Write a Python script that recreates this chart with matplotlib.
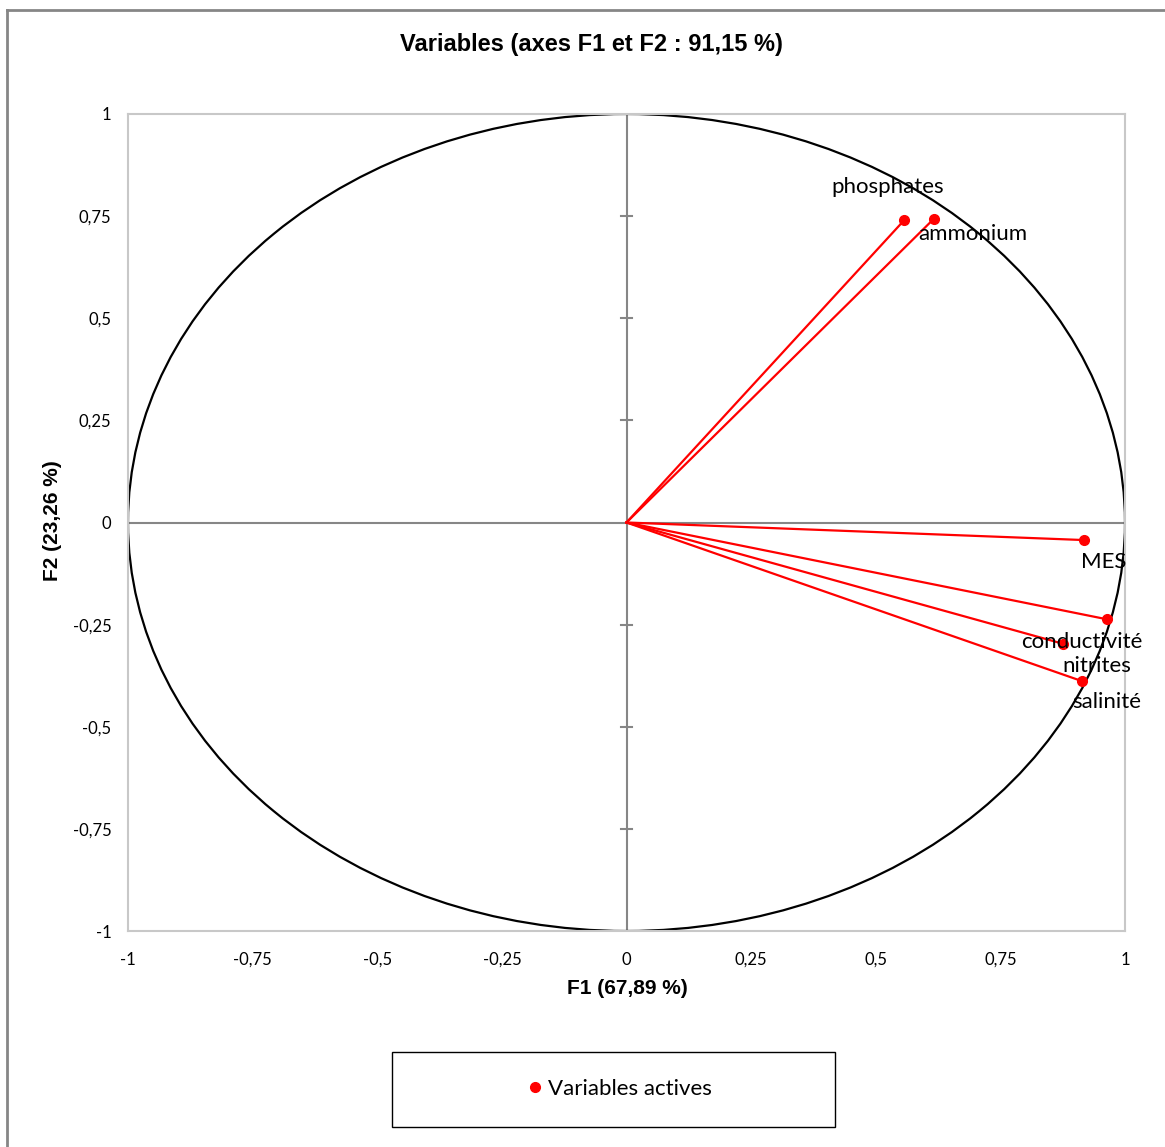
import numpy as np
import matplotlib
matplotlib.use("Agg")
import matplotlib.pyplot as plt
from matplotlib.lines import Line2D
from matplotlib.patches import Rectangle, Ellipse

# ---- data ----
variables = ["phosphates", "ammonium", "MES", "conductivité", "nitrites", "salinité"]
f1 = [0.557, 0.617, 0.918, 0.964, 0.876, 0.913]
f2 = [0.740, 0.744, -0.043, -0.237, -0.297, -0.388]
ticks = [-1, -0.75, -0.5, -0.25, 0, 0.25, 0.5, 0.75, 1]
tick_labels = ["-1", "-0,75", "-0,5", "-0,25", "0", "0,25", "0,5", "0,75", "1"]
title = "Variables (axes F1 et F2 : 91,15 %)"
xlabel = "F1 (67,89 %)"
ylabel = "F2 (23,26 %)"
legend_label = "Variables actives"

# label offsets in points (style)
offsets = [(-12, 24), (28, -11), (14, -16), (-18, -16), (24, -16), (18, -15)]

W, H = 1165, 1147
fig = plt.figure(figsize=(W / 100, H / 100), dpi=100)
body = "Lato"
head = "Liberation Sans"

ax = fig.add_axes([128 / W, 1 - 931 / H, (1125 - 128) / W, (931 - 114) / H])
ax.set_xlim(-1, 1)
ax.set_ylim(-1, 1)
for s in ax.spines.values():
    s.set_color("#c8c8c8")
    s.set_linewidth(1.5)
ax.set_xticks(ticks)
ax.set_yticks(ticks)
ax.set_xticklabels(tick_labels, family=body, fontsize=12)
ax.set_yticklabels(tick_labels, family=body, fontsize=12)
ax.tick_params(length=0)
ax.tick_params(axis="x", pad=15)
ax.tick_params(axis="y", pad=12)

# zero axes
ax.axhline(0, color="#868686", lw=1.5, zorder=1)
ax.axvline(0, color="#868686", lw=1.5, zorder=1)
# cross ticks on vertical zero axis
for t in ticks:
    if t not in (-1, 0, 1):
        ax.plot([-0.012, 0.012], [t, t], color="#868686", lw=1.5, zorder=1)

# circle
ax.add_patch(Ellipse((0, 0), 2, 2, fill=False, edgecolor="black", lw=1.6, zorder=2))

# vectors
for name, x, y, off in zip(variables, f1, f2, offsets):
    ax.plot([0, x], [0, y], color="#ff0000", lw=1.6, zorder=3)
    ax.plot([x], [y], marker="o", color="#ff0000", ms=7, zorder=4)
    ax.annotate(name, (x, y), xytext=off, textcoords="offset points",
                ha="center", va="center", family=body, fontsize=16, zorder=5)

fig.text(591 / W, 1 - 45 / H, title, ha="center", va="center",
         family=head, fontweight="bold", fontsize=17)
fig.text(627 / W, 1 - 988 / H, xlabel, ha="center", va="center",
         family=head, fontweight="bold", fontsize=15)
fig.text(52 / W, 1 - 521 / H, ylabel, ha="center", va="center", rotation=90,
         family=head, fontweight="bold", fontsize=15)

# legend box
fig.patches.append(Rectangle((392 / W, 1 - 1127 / H), (835 - 392) / W, (1127 - 1052) / H,
                             transform=fig.transFigure, fill=False, edgecolor="black", lw=1))
h = Line2D([], [], marker="o", color="#ff0000", ls="none", ms=7)
fig.legend([h], [legend_label], loc="center", bbox_to_anchor=(618 / W, 1 - 1089 / H),
           frameon=False, prop={"family": body, "size": 16}, handletextpad=0.1,
           handlelength=1.0)

# outer frame (top and left visible)
fig.add_artist(Line2D([7 / W, 7 / W], [0, 1 - 10 / H], transform=fig.transFigure,
                      color="#868686", lw=2))
fig.add_artist(Line2D([7 / W, 1], [1 - 10 / H, 1 - 10 / H], transform=fig.transFigure,
                      color="#868686", lw=2))

fig.savefig("out.png", dpi=100)
